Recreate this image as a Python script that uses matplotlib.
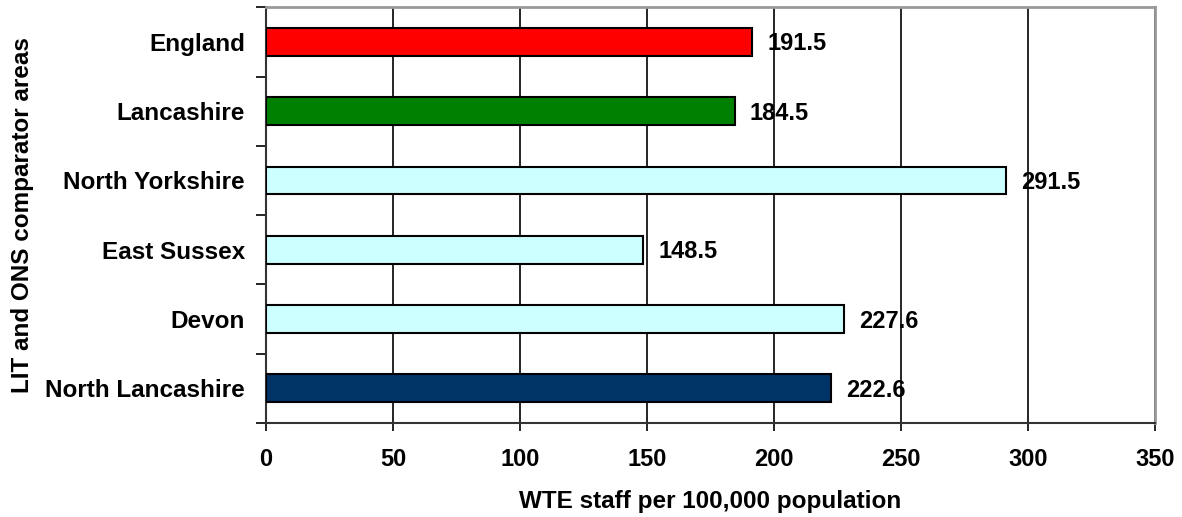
import matplotlib.pyplot as plt

# Data
areas = ["England", "Lancashire", "North Yorkshire", "East Sussex", "Devon", "North Lancashire"]
values = [191.5, 184.5, 291.5, 148.5, 227.6, 222.6]
colors = ["#FF0000", "#008000", "#CCFFFF", "#CCFFFF", "#CCFFFF", "#003366"]
xticks = [0, 50, 100, 150, 200, 250, 300, 350]

plt.rcParams["font.family"] = ["Liberation Sans", "DejaVu Sans"]
plt.rcParams["font.weight"] = "bold"

fig = plt.figure(figsize=(11.82, 5.17), dpi=100)
ax = fig.add_axes([0.225, 0.182, 0.752, 0.804])

ypos = list(range(len(areas)))[::-1]
ax.barh(ypos, values, height=0.4, color=colors, edgecolor="black", linewidth=1.5, zorder=3)

for y, v in zip(ypos, values):
    ax.text(v + 6, y - 0.03, f"{v:.1f}", va="center", ha="left", fontsize=17, fontweight="bold", zorder=4)

ax.set_xlim(0, 350)
ax.set_ylim(-0.5, len(areas) - 0.5)
ax.set_xticks(xticks)
ax.set_xticklabels([str(t) for t in xticks], fontsize=17, fontweight="bold")
ax.xaxis.grid(True, color="black", linewidth=1.2, zorder=0)

# category labels between boundary ticks
ax.set_yticks([y - 0.5 for y in range(len(areas) + 1)])
ax.set_yticklabels([])
ax.set_yticks(ypos, minor=True)
ax.set_yticklabels(areas, minor=True, fontsize=17.5, fontweight="bold")
ax.tick_params(axis="y", which="minor", length=0, pad=15)
ax.tick_params(axis="y", which="major", length=7, width=1.2, direction="out")
ax.tick_params(axis="x", length=6, width=1.2, direction="out", pad=12)

for side in ["top", "right"]:
    ax.spines[side].set_color("#999999")
    ax.spines[side].set_linewidth(2)
for side in ["left", "bottom"]:
    ax.spines[side].set_color("#333333")
    ax.spines[side].set_linewidth(1.5)

ax.set_xlabel("WTE staff per 100,000 population", fontsize=17.5, fontweight="bold", labelpad=14)
ax.set_ylabel("LIT and ONS comparator areas", fontsize=17.5, fontweight="bold", labelpad=8)

plt.savefig("out.png", dpi=100)
